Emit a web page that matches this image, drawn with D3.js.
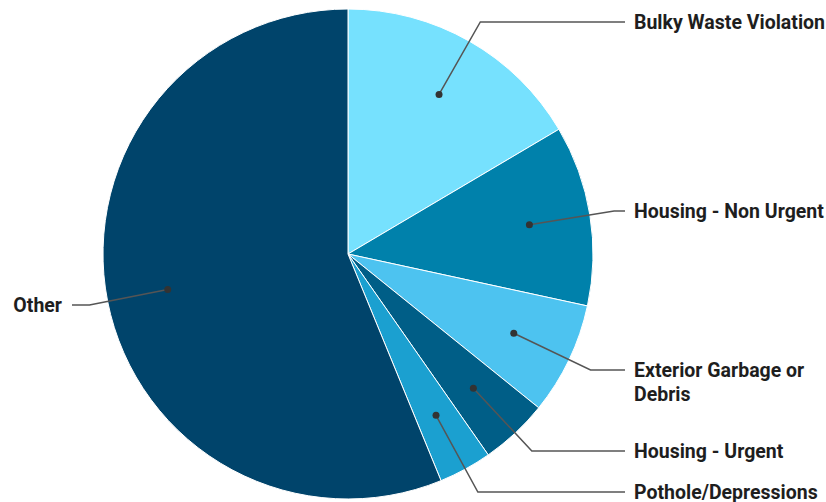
<!DOCTYPE html>
<html>
<head>
<meta charset="utf-8">
<script src="https://d3js.org/d3.v7.min.js"></script>
<style>
  body { margin: 0; background: #fff; }
  svg { display: block; }
  text { font-family: Roboto, "Noto Sans", sans-serif; font-weight: 700; font-size: 19.5px; fill: #1e1e1e; }
</style>
</head>
<body>
<svg id="chart" width="826" height="502"></svg>
<script>
const categories = ["Bulky Waste Violation", "Housing - Non Urgent", "Exterior Garbage or Debris", "Housing - Urgent", "Pothole/Depressions", "Other"]
const values = [16.5, 11.9, 7.4, 4.5, 3.5, 56.2]
const colors = ["#76e1fe", "#0081ab", "#4dc3f0", "#005e87", "#1ba0d0", "#00446b"]
// label rows: y of the leader line and wrapped lines
const labelY = [22, 211, 370, 451, 492, 305]
const labelLines = [["Bulky Waste Violation"], ["Housing - Non Urgent"], ["Exterior Garbage or", "Debris"], ["Housing - Urgent"], ["Pothole/Depressions"], ["Other"]]

const svg = d3.select("#chart")
const cx = 348, cy = 254, radius = 245
const g = svg.append("g").attr("transform", `translate(${cx},${cy})`)

const data = categories.map((c, i) => ({ name: c, value: values[i], color: colors[i], y: labelY[i] - cy, lines: labelLines[i] }))

const pie = d3.pie().value(d => d.value).sort(null)
const arc = d3.arc().innerRadius(0).outerRadius(radius)
const dotArc = d3.arc().innerRadius(radius * 0.75).outerRadius(radius * 0.75)

const arcs = pie(data)

g.selectAll("path.slice")
  .data(arcs).enter()
  .append("path")
  .attr("class", "slice")
  .attr("d", arc)
  .attr("fill", d => d.data.color)
  .attr("stroke", "#fff")
  .attr("stroke-width", 1)

const rightEnd = 625 - cx, leftEnd = 72 - cx

arcs.forEach(d => {
  const mid = (d.startAngle + d.endAngle) / 2
  const [px, py] = dotArc.centroid(d)
  const right = Math.sin(mid) > 0
  const dirx = Math.sin(mid), diry = -Math.cos(mid)
  const ly = d.data.y
  // elbow where the radial direction meets the label row
  let ex = px + dirx * ((ly - py) / diry)
  const endX = right ? rightEnd : leftEnd
  if (right) ex = Math.min(isFinite(ex) && ex > px ? ex : endX - 10, endX - 10)
  else ex = Math.max(isFinite(ex) && ex < px ? ex : endX + 16, endX + 16)

  g.append("path")
    .attr("d", d3.line()([[px, py], [ex, ly], [endX, ly]]))
    .attr("fill", "none")
    .attr("stroke", "#555")
    .attr("stroke-width", 1.5)

  g.append("circle")
    .attr("cx", px).attr("cy", py).attr("r", 3.5)
    .attr("fill", "#333")

  const t = g.append("text")
    .attr("x", right ? endX + 9 : endX - 10)
    .attr("y", ly)
    .attr("text-anchor", right ? "start" : "end")
    .attr("dominant-baseline", "central")
  d.data.lines.forEach((line, j) => {
    t.append("tspan")
      .attr("x", right ? endX + 9 : endX - 10)
      .attr("dy", j === 0 ? 0 : 24)
      .text(line)
  })
})
</script>
</body>
</html>
